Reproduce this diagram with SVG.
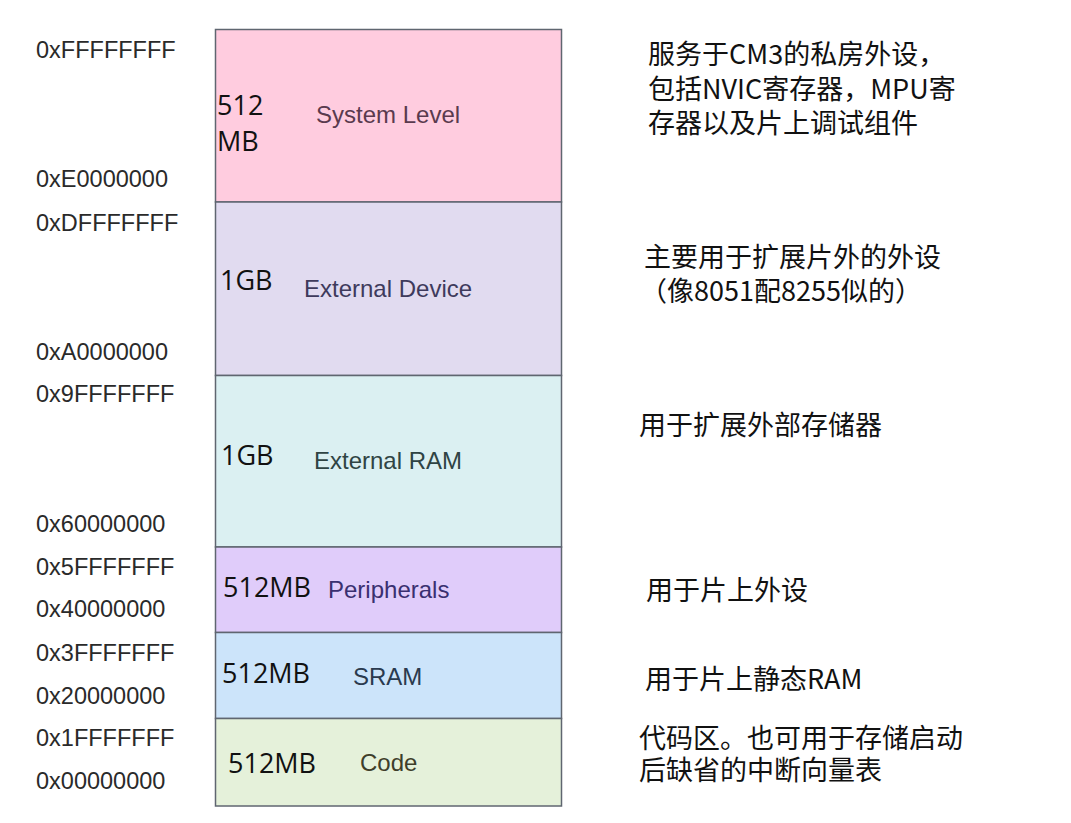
<svg xmlns="http://www.w3.org/2000/svg" width="1071" height="823" viewBox="0 0 1071 823">
<style>
.addr{font-family:"Liberation Sans",Arial,sans-serif;font-size:23.5px;fill:#2a2a2a}
.size{font-family:"Open Sans","Noto Sans",sans-serif;font-size:27px;fill:#111}
.lbl{font-family:"Liberation Sans",Arial,sans-serif;font-size:24px}
.note{font-family:"Noto Sans CJK SC","Noto Sans",sans-serif;font-size:27px;fill:#111}
.blk{stroke:#5f6670;stroke-width:1.5}
</style>
<rect width="1071" height="823" fill="#ffffff"/>
<g id="addresses">
<text class="addr" x="36" y="58">0xFFFFFFFF</text>
<text class="addr" x="36" y="187">0xE0000000</text>
<text class="addr" x="36" y="231">0xDFFFFFFF</text>
<text class="addr" x="36" y="360">0xA0000000</text>
<text class="addr" x="36" y="402">0x9FFFFFFF</text>
<text class="addr" x="36" y="532">0x60000000</text>
<text class="addr" x="36" y="575">0x5FFFFFFF</text>
<text class="addr" x="36" y="617">0x40000000</text>
<text class="addr" x="36" y="661">0x3FFFFFFF</text>
<text class="addr" x="36" y="704">0x20000000</text>
<text class="addr" x="36" y="746">0x1FFFFFFF</text>
<text class="addr" x="36" y="789">0x00000000</text>
</g>
<g id="system-level">
<rect class="blk" x="215.5" y="29.5" width="346" height="172.5" fill="#FFCCDF"/>
<text class="size" x="217" y="115">512</text>
<text class="size" x="217" y="151">MB</text>
<text class="lbl" x="316" y="123" fill="#5a3a4e">System Level</text>
</g>
<g id="external-device">
<rect class="blk" x="215.5" y="202" width="346" height="173.5" fill="#E1DBF0"/>
<text class="size" x="220" y="290">1GB</text>
<text class="lbl" x="304" y="297" fill="#3e3a5c">External Device</text>
</g>
<g id="external-ram">
<rect class="blk" x="215.5" y="375.5" width="346" height="171.5" fill="#DBF0F2"/>
<text class="size" x="221" y="465">1GB</text>
<text class="lbl" x="314" y="469" fill="#2f4444">External RAM</text>
</g>
<g id="peripherals">
<rect class="blk" x="215.5" y="547" width="346" height="85.5" fill="#E0CCFA"/>
<text class="size" x="223" y="597">512MB</text>
<text class="lbl" x="328" y="598" fill="#3a3070">Peripherals</text>
</g>
<g id="sram">
<rect class="blk" x="215.5" y="632.5" width="346" height="86" fill="#CCE4FA"/>
<text class="size" x="222" y="683">512MB</text>
<text class="lbl" x="353" y="685" fill="#2a3a4e">SRAM</text>
</g>
<g id="code">
<rect class="blk" x="215.5" y="718.5" width="346" height="87.5" fill="#E5F1DA"/>
<text class="size" x="228" y="773">512MB</text>
<text class="lbl" x="360" y="771" fill="#3e3e2a">Code</text>
</g>
<g id="notes">
<text class="note" x="648" y="64">服务于CM3的私房外设，</text>
<text class="note" x="648" y="99">包括NVIC寄存器，MPU寄</text>
<text class="note" x="648" y="133">存器以及片上调试组件</text>
<text class="note" x="644" y="267">主要用于扩展片外的外设</text>
<text class="note" x="640" y="301">（像8051配8255似的）</text>
<text class="note" x="639" y="435">用于扩展外部存储器</text>
<text class="note" x="646" y="600">用于片上外设</text>
<text class="note" x="645" y="689">用于片上静态RAM</text>
<text class="note" x="639" y="748">代码区。也可用于存储启动</text>
<text class="note" x="639" y="780">后缺省的中断向量表</text>
</g>
<g id="connectors"/>
</svg>
